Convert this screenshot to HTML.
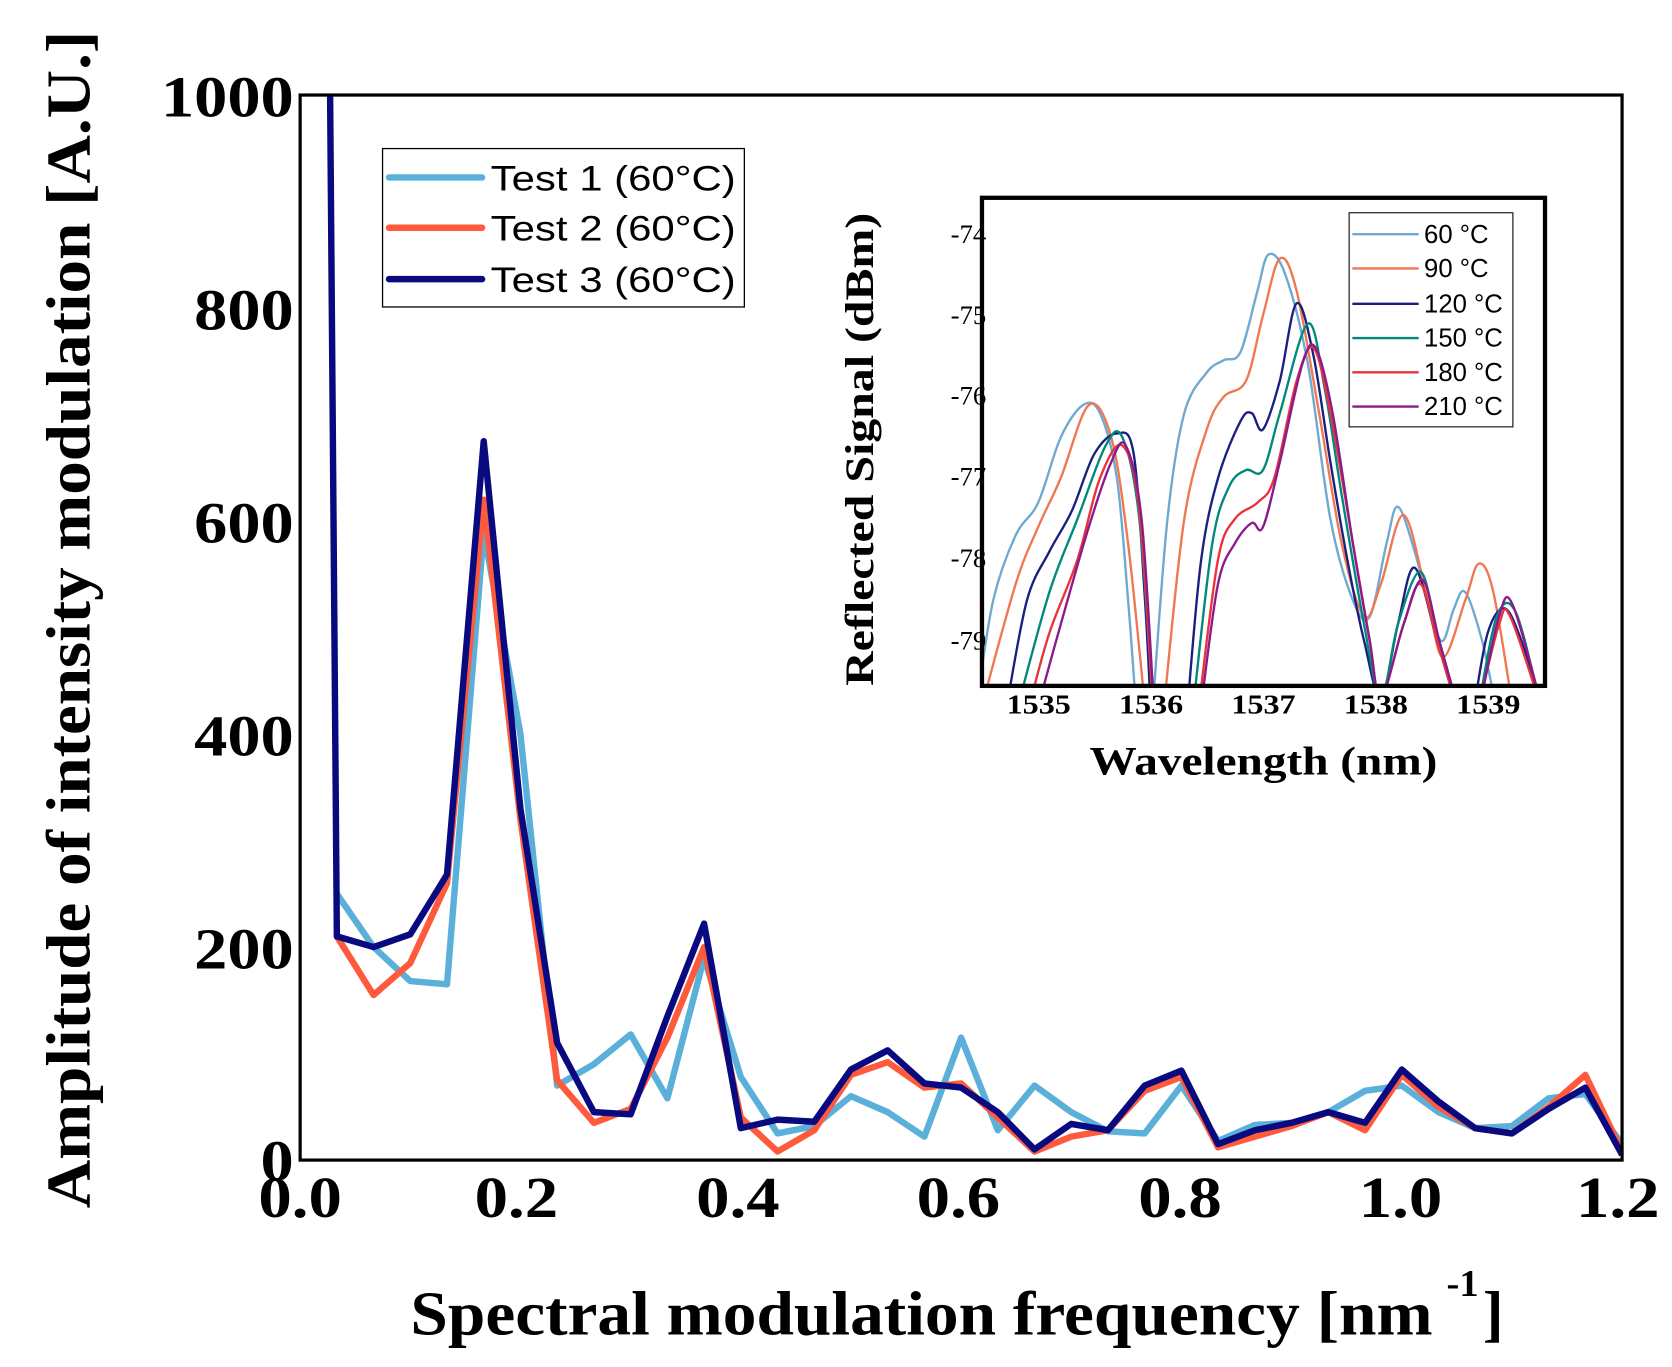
<!DOCTYPE html>
<html><head><meta charset="utf-8"><style>
html,body{margin:0;padding:0;background:#fff;}
svg{display:block;}
.tb{font-family:"Liberation Serif",serif;font-weight:bold;fill:#000;}
.ss{font-family:"Liberation Sans",sans-serif;fill:#000;}
</style></head><body>
<svg id="s" xmlns="http://www.w3.org/2000/svg" width="1672" height="1367" viewBox="4.67 1.21 1561.9 1277.1">
<defs><clipPath id="mc"><rect x="285" y="90" width="1235" height="995"/></clipPath>
<clipPath id="ic"><rect x="922" y="186" width="526" height="456"/></clipPath></defs>
<rect x="4.67" y="1.21" width="1561.9" height="1277.1" fill="#fff"/>
<g id="main" clip-path="url(#mc)"></g>
<rect x="285" y="90" width="1235" height="995" fill="none" stroke="#000" stroke-width="3"/>
<g class="tb" font-size="54" text-anchor="end" lengthAdjust="spacingAndGlyphs">
<text x="279" y="110" textLength="124" lengthAdjust="spacingAndGlyphs">1000</text>
<text x="279" y="309" textLength="93" lengthAdjust="spacingAndGlyphs">800</text>
<text x="279" y="508" textLength="93" lengthAdjust="spacingAndGlyphs">600</text>
<text x="279" y="707" textLength="93" lengthAdjust="spacingAndGlyphs">400</text>
<text x="279" y="906" textLength="93" lengthAdjust="spacingAndGlyphs">200</text>
<text x="279" y="1104" textLength="31" lengthAdjust="spacingAndGlyphs">0</text>
</g>
<g class="tb" font-size="54" text-anchor="middle">
<text x="285" y="1138" textLength="78" lengthAdjust="spacingAndGlyphs">0.0</text>
<text x="487" y="1138" textLength="78" lengthAdjust="spacingAndGlyphs">0.2</text>
<text x="694" y="1138" textLength="78" lengthAdjust="spacingAndGlyphs">0.4</text>
<text x="900" y="1138" textLength="78" lengthAdjust="spacingAndGlyphs">0.6</text>
<text x="1107" y="1138" textLength="78" lengthAdjust="spacingAndGlyphs">0.8</text>
<text x="1313" y="1138" textLength="78" lengthAdjust="spacingAndGlyphs">1.0</text>
<text x="1516" y="1138" textLength="78" lengthAdjust="spacingAndGlyphs">1.2</text>
</g>
<text class="tb" font-size="58" x="388" y="1248" textLength="955" lengthAdjust="spacingAndGlyphs">Spectral modulation frequency [nm</text>
<text class="tb" font-size="36" x="1356" y="1212">-1</text>
<text class="tb" font-size="58" x="1390" y="1248">]</text>
<text class="tb" font-size="58" transform="translate(88,580) rotate(-90)" text-anchor="middle" textLength="1100" lengthAdjust="spacingAndGlyphs">Amplitude of intensity modulation [A.U.]</text>
<rect x="362" y="140" width="338" height="148" fill="#fff" stroke="#000" stroke-width="1.2"/>
<g stroke-width="6" stroke-linecap="round">
<line x1="368" y1="167" x2="455" y2="167" stroke="#5ab0d8"/>
<line x1="368" y1="214" x2="455" y2="214" stroke="#ff5a3c"/>
<line x1="368" y1="262" x2="455" y2="262" stroke="#0a0a80"/>
</g>
<g class="ss" font-size="33">
<text x="463" y="179" textLength="229" lengthAdjust="spacingAndGlyphs">Test 1 (60°C)</text>
<text x="463" y="226" textLength="229" lengthAdjust="spacingAndGlyphs">Test 2 (60°C)</text>
<text x="463" y="274" textLength="229" lengthAdjust="spacingAndGlyphs">Test 3 (60°C)</text>
</g>
<rect x="922" y="186" width="526" height="456" fill="#fff"/>
<g id="ins" clip-path="url(#ic)"></g>
<rect x="922" y="186" width="526" height="456" fill="none" stroke="#000" stroke-width="4"/>
<g font-family="Liberation Serif, serif" font-size="25" text-anchor="end">
<text x="926" y="228">-74</text><text x="926" y="304">-75</text><text x="926" y="379">-76</text><text x="926" y="455">-77</text><text x="926" y="531">-78</text><text x="926" y="608">-79</text>
</g>
<g class="tb" font-size="26" text-anchor="middle">
<text x="975" y="668" textLength="60" lengthAdjust="spacingAndGlyphs">1535</text>
<text x="1080" y="668" textLength="60" lengthAdjust="spacingAndGlyphs">1536</text>
<text x="1185" y="668" textLength="60" lengthAdjust="spacingAndGlyphs">1537</text>
<text x="1290" y="668" textLength="60" lengthAdjust="spacingAndGlyphs">1538</text>
<text x="1395" y="668" textLength="60" lengthAdjust="spacingAndGlyphs">1539</text>
</g>
<text class="tb" font-size="38" x="1185" y="725" text-anchor="middle" textLength="325" lengthAdjust="spacingAndGlyphs">Wavelength (nm)</text>
<text class="tb" font-size="38" transform="translate(820,421) rotate(-90)" text-anchor="middle" textLength="442" lengthAdjust="spacingAndGlyphs">Reflected Signal (dBm)</text>
<rect x="1265" y="200" width="153" height="200" fill="#fff" stroke="#000" stroke-width="1"/>
<g id="ileg"></g>
</svg>
<script>
var NS="http://www.w3.org/2000/svg";
function el(p,t,a){var e=document.createElementNS(NS,t);for(var k in a)e.setAttribute(k,a[k]);p.appendChild(e);return e;}
var main=document.getElementById('main');
var t1=[250,200,168,165,590,400,70,90,118,58,190,78,25,32,60,45,22,115,28,70,45,27,25,70,18,33,35,45,65,70,45,30,32,58,62,15];
var t2=[210,155,185,260,620,320,75,35,48,115,200,40,8,28,80,92,68,72,40,8,22,28,65,78,12,22,32,45,28,80,50,30,25,50,80,8];
var t3=[210,200,212,268,675,330,110,45,43,135,222,30,38,36,85,103,72,68,45,10,34,28,70,84,15,28,35,45,35,85,55,30,25,48,68,5];
function mx(v){return 285+v/1.2*1235;} function my(a){return 1085-a*0.995;}
function line(d,c,first){var s=first;for(var i=0;i<d.length;i++){s+=" L"+mx((i+1)/30).toFixed(1)+","+my(d[i]).toFixed(1);}
 el(main,'path',{d:s,fill:'none',stroke:c,'stroke-width':6,'stroke-linejoin':'round'});}
line(t1,'#5ab0d8',"M"+mx(1/30)+","+my(250));
line(t2,'#ff5a3c',"M"+mx(1/30)+","+my(210));
line(t3,'#0a0a80',"M313,80 L313,"+my(1000)+" L"+mx(1/30)+","+my(210));
var ins=document.getElementById('ins');
function ix(w){return 922+(w-1534.5)*105;} function iy(d){return 220+(-74-d)*76;}
function smooth(pts){var p=pts.map(function(q){return [ix(q[0]),iy(q[1])];});var s="M"+p[0][0].toFixed(1)+","+p[0][1].toFixed(1);
 for(var i=0;i<p.length-1;i++){var a=p[i-1]||p[i],b=p[i],c=p[i+1],d=p[i+2]||c;
 s+=" C"+(b[0]+(c[0]-a[0])/6).toFixed(1)+","+(b[1]+(c[1]-a[1])/6).toFixed(1)+" "+(c[0]-(d[0]-b[0])/6).toFixed(1)+","+(c[1]-(d[1]-b[1])/6).toFixed(1)+" "+c[0].toFixed(1)+","+c[1].toFixed(1);}
 return s;}
var curves=[
['#6fa8d0',[[[1534.45,-79.8],[1534.6,-78.5],[1534.8,-77.7],[1535.0,-77.3],[1535.2,-76.5],[1535.4,-76.1],[1535.55,-76.2],[1535.7,-77.0],[1535.8,-78.5],[1535.87,-79.8]],
 [[1536.02,-79.8],[1536.15,-77.5],[1536.3,-76.2],[1536.5,-75.7],[1536.65,-75.55],[1536.8,-75.45],[1536.95,-74.7],[1537.05,-74.25],[1537.2,-74.5],[1537.4,-75.6],[1537.6,-77.5],[1537.8,-78.5],[1537.95,-78.7],[1538.1,-77.8],[1538.2,-77.35],[1538.35,-77.9],[1538.5,-78.7],[1538.6,-79.0],[1538.7,-78.6],[1538.8,-78.4],[1538.95,-79.0],[1539.07,-79.8]]]],
['#f07850',[[[1534.5,-79.8],[1534.8,-78.3],[1535.0,-77.6],[1535.2,-77.0],[1535.45,-76.1],[1535.65,-76.5],[1535.8,-77.8],[1535.95,-79.8]],
 [[1536.12,-79.8],[1536.3,-77.5],[1536.5,-76.4],[1536.65,-76.0],[1536.85,-75.8],[1537.0,-75.0],[1537.15,-74.3],[1537.3,-74.7],[1537.5,-76.2],[1537.7,-77.8],[1537.9,-78.7],[1538.05,-78.3],[1538.25,-77.45],[1538.45,-78.4],[1538.6,-79.2],[1538.8,-78.5],[1538.92,-78.05],[1539.05,-78.4],[1539.22,-79.8]]]],
['#1a1f80',[[[1534.72,-79.8],[1534.9,-78.5],[1535.1,-77.9],[1535.3,-77.4],[1535.5,-76.7],[1535.7,-76.45],[1535.85,-76.7],[1535.95,-78.5],[1536.0,-79.8]],
 [[1536.33,-79.8],[1536.45,-78.0],[1536.6,-77.0],[1536.8,-76.3],[1536.9,-76.2],[1537.0,-76.4],[1537.15,-75.8],[1537.3,-74.85],[1537.45,-75.5],[1537.6,-76.8],[1537.75,-78.0],[1537.9,-79.0],[1538.05,-79.7],[1538.2,-78.8],[1538.35,-78.1],[1538.55,-79.0],[1538.72,-79.8]],
 [[1538.88,-79.8],[1539.0,-78.9],[1539.15,-78.6],[1539.3,-79.0],[1539.47,-79.8]]]],
['#00897b',[[[1534.82,-79.8],[1535.1,-78.4],[1535.35,-77.5],[1535.6,-76.6],[1535.75,-76.5],[1535.9,-77.5],[1536.02,-79.8]],
 [[1536.38,-79.8],[1536.55,-77.8],[1536.7,-77.1],[1536.85,-76.9],[1537.0,-76.9],[1537.15,-76.2],[1537.4,-75.1],[1537.55,-75.9],[1537.7,-77.2],[1537.9,-78.8],[1538.05,-79.7],[1538.2,-78.8],[1538.4,-78.15],[1538.55,-78.9],[1538.72,-79.8]],
 [[1538.92,-79.8],[1539.08,-78.7],[1539.25,-78.65],[1539.47,-79.8]]]],
['#e8323c',[[[1534.92,-79.8],[1535.1,-78.9],[1535.35,-78.0],[1535.55,-77.0],[1535.75,-76.6],[1535.9,-77.4],[1536.02,-79.8]],
 [[1536.43,-79.8],[1536.6,-78.0],[1536.75,-77.5],[1536.95,-77.3],[1537.1,-77.0],[1537.3,-75.8],[1537.45,-75.4],[1537.6,-76.2],[1537.8,-77.8],[1537.95,-79.0],[1538.05,-79.7],[1538.25,-78.8],[1538.4,-78.3],[1538.55,-79.0],[1538.72,-79.8]],
 [[1538.92,-79.8],[1539.1,-78.8],[1539.2,-78.7],[1539.47,-79.8]]]],
['#8b1a8b',[[[1535.0,-79.8],[1535.2,-78.8],[1535.45,-77.6],[1535.65,-76.8],[1535.78,-76.6],[1535.92,-77.5],[1536.03,-79.8]],
 [[1536.45,-79.8],[1536.6,-78.3],[1536.75,-77.8],[1536.9,-77.55],[1537.0,-77.6],[1537.15,-76.8],[1537.35,-75.6],[1537.47,-75.4],[1537.62,-76.2],[1537.8,-77.8],[1537.95,-79.0],[1538.05,-79.7],[1538.25,-78.8],[1538.42,-78.25],[1538.57,-79.0],[1538.73,-79.8]],
 [[1538.93,-79.8],[1539.1,-78.7],[1539.22,-78.55],[1539.48,-79.8]]]]
];
curves.forEach(function(c){c[1].forEach(function(seg){el(ins,'path',{d:smooth(seg),fill:'none',stroke:c[0],'stroke-width':2.2});});});
var lg=document.getElementById('ileg');
var labs=['60 °C','90 °C','120 °C','150 °C','180 °C','210 °C'];
var ys=[220,252,285,317,349,381];
for(var i=0;i<6;i++){el(lg,'line',{x1:1268,y1:ys[i],x2:1330,y2:ys[i],stroke:curves[i][0],'stroke-width':2.2});
 var t=el(lg,'text',{x:1335,y:ys[i]+8,'font-size':24,'font-family':'Liberation Sans, sans-serif'});t.textContent=labs[i];}
</script>
</body></html>
